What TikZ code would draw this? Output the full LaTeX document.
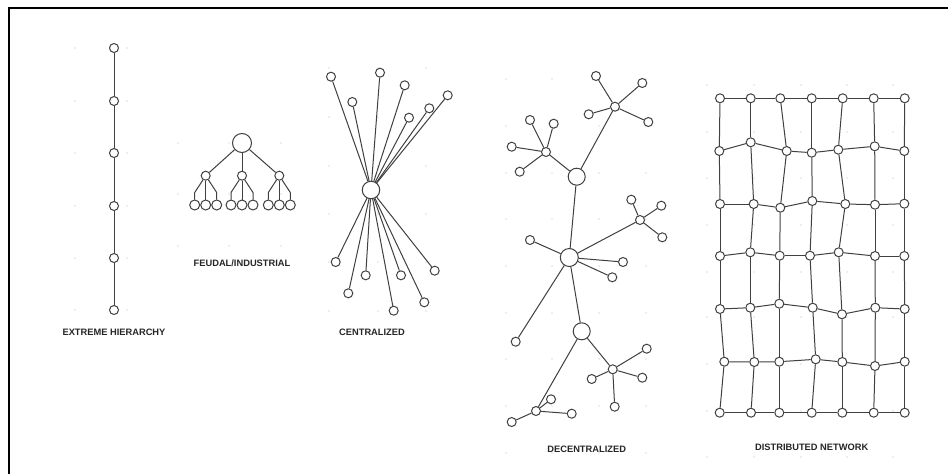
\documentclass[tikz,border=0pt]{standalone}
\usepackage{fontspec}
\setmainfont{Liberation Sans}
\definecolor{linec}{HTML}{404040}
\definecolor{dotc}{HTML}{B8B8B8}
\begin{document}
\begin{tikzpicture}[x=1pt,y=-1pt,
  edge/.style={draw=linec,line width=1pt},
  sn/.style={circle,draw=linec,fill=white,line width=1pt,inner sep=0pt,minimum size=9pt},
  ln/.style={sn,minimum size=10pt},
  lbl/.style={font=\bfseries\fontsize{9.3}{9.3}\selectfont,text=black!85,inner sep=0pt},
  gdot/.style={fill=dotc,draw=none}]
\useasboundingbox (0,0) rectangle (948,474);
\fill[white] (0,0) rectangle (948,474);
% frame
\draw[black,line width=1.4pt] (9,474) -- (9,8) -- (948,8);
% ---------- grey dots ----------
\foreach \x in {75,127} \foreach \y in {48,101,153,206,258,310} \fill[gdot] (\x,\y) circle (0.7);
\foreach \x in {178,229,281} \foreach \y in {143,194,246} \fill[gdot] (\x,\y) circle (0.7);
\foreach \x in {329,378,426} \foreach \y in {68,117,166,214,262,311} \fill[gdot] (\x,\y) circle (0.7);
\foreach \x in {506,552,599,646} \foreach \y in {79,126,173,219,266,313,359,406,453} \fill[gdot] (\x,\y) circle (0.7);
\foreach \x in {707,754,801,847,893} \foreach \y in {85,132,178,225,272,317,364,411,457} \fill[gdot] (\x,\y) circle (0.7);
% ---------- extreme hierarchy ----------
\foreach \y [count=\i] in {48,101,153,206,258,310} \node[sn] (h\i) at (114,\y) {};
\foreach \i/\j in {1/2,2/3,3/4,4/5,5/6} \draw[edge] (h\i) -- (h\j);
\node[lbl] (lh) at (114,332) {EXTREME HIERARCHY};
% ---------- feudal / industrial ----------
\node[sn,minimum size=19pt] (f0) at (242,143) {};
\foreach \x [count=\i] in {205.7,242,279.3} {
  \node[sn] (f\i) at (\x,175.7) {};
  \node[ln] (f\i a) at (\x-11,205) {};
  \node[ln] (f\i b) at (\x,205) {};
  \node[ln] (f\i c) at (\x+11,205) {};
  \draw[edge] (f0) -- (f\i);
  \draw[edge] (f\i) -- ([yshift=7pt]f\i a.north) -- (f\i a);
  \draw[edge] (f\i) -- (f\i b);
  \draw[edge] (f\i) -- ([yshift=7pt]f\i c.north) -- (f\i c);
}
\node[lbl] (lf) at (242,263) {FEUDAL/INDUSTRIAL};
% ---------- centralized ----------
\node[sn,minimum size=17.5pt] (c0) at (371,190) {};
\foreach \x/\y [count=\i] in {331/76.7, 380/72.7, 404.7/85.3, 352.3/102, 447.7/95.3, 429.3/108.3, 409/117.7,
  335.7/262, 365.7/275.3, 401/275.3, 434.7/270.7, 348.3/293.3, 424.3/302.3, 393.7/310.7} {
  \node[sn] (c\i) at (\x,\y) {};
  \draw[edge] (c0) -- (c\i);
}
\node[lbl] (lc) at (372,332) {CENTRALIZED};
% ---------- decentralized ----------
\node[sn,minimum size=17pt] (A) at (576.7,176.7) {};
\node[sn,minimum size=18pt] (D) at (569.3,257.5) {};
\node[sn,minimum size=17pt] (F) at (581.7,331.3) {};
\node[sn] (B) at (615,106.7) {};
\node[sn] (C) at (546,152) {};
\node[sn] (E) at (640,220) {};
\node[sn] (G) at (612.7,369.3) {};
\node[sn] (H) at (536,411) {};
\draw[edge] (A) -- (B);
\draw[edge] (A) -- (C);
\draw[edge] (A) -- (D);
\draw[edge] (D) -- (E);
\draw[edge] (D) -- (F);
\draw[edge] (F) -- (G);
\draw[edge] (F) -- (H);
\foreach \x/\y [count=\i] in {596/76, 642.3/83, 588.7/114.3, 648.3/122} {\node[sn] (b\i) at (\x,\y) {}; \draw[edge] (B) -- (b\i);}
\foreach \x/\y [count=\i] in {530/120, 553.7/123.7, 511.7/146.7, 519.7/171.7} {\node[sn] (cc\i) at (\x,\y) {}; \draw[edge] (C) -- (cc\i);}
\foreach \x/\y [count=\i] in {530/240, 623/262, 612.3/277.3, 515.7/341.7} {\node[sn] (dd\i) at (\x,\y) {}; \draw[edge] (D) -- (dd\i);}
\foreach \x/\y [count=\i] in {631.3/199.7, 661.3/205.7, 662.3/237.3} {\node[sn] (e\i) at (\x,\y) {}; \draw[edge] (E) -- (e\i);}
\foreach \x/\y [count=\i] in {646.7/348.7, 591.7/379, 642.3/377.7, 614.7/406.7} {\node[sn] (g\i) at (\x,\y) {}; \draw[edge] (G) -- (g\i);}
\foreach \x/\y [count=\i] in {551/399.3, 571.7/413.7, 511.7/422} {\node[sn] (hh\i) at (\x,\y) {}; \draw[edge] (H) -- (hh\i);}
\node[lbl] (ld) at (586.7,449) {DECENTRALIZED};
% ---------- distributed network ----------
\foreach \x/\y [count=\c] in {720/98.3, 750.7/98.3, 780.3/98.3, 811.7/98.3, 842.7/98.3, 873.7/98.3, 904.7/98.3} \node[sn] (d1-\c) at (\x,\y) {};
\foreach \x/\y [count=\c] in {719.3/151, 750.7/142.3, 786.7/151, 811.7/152.7, 838.3/149.7, 874.7/146.3, 904.3/151} \node[sn] (d2-\c) at (\x,\y) {};
\foreach \x/\y [count=\c] in {720/204, 753.7/204, 780.3/207.7, 812.3/201, 845.3/204, 875/204.7, 904.3/203.7} \node[sn] (d3-\c) at (\x,\y) {};
\foreach \x/\y [count=\c] in {720/256, 750.3/252.3, 779.7/255.7, 810/255.7, 838.7/252.3, 875/256, 904.3/256} \node[sn] (d4-\c) at (\x,\y) {};
\foreach \x/\y [count=\c] in {720/309, 750.3/307.7, 779.3/303.7, 812.7/307.7, 842/314.3, 875.3/307.7, 904.7/309} \node[sn] (d5-\c) at (\x,\y) {};
\foreach \x/\y [count=\c] in {724.3/361.7, 754.3/362, 779.3/361.7, 815.7/359.3, 842.3/362, 875/366, 904.7/361.7} \node[sn] (d6-\c) at (\x,\y) {};
\foreach \x/\y [count=\c] in {719.7/412.7, 751/412.7, 779.3/412.7, 811.7/412.7, 842.3/412.7, 873.7/412.7, 904.7/412.7} \node[sn] (d7-\c) at (\x,\y) {};
\foreach \r in {1,2,3,4,5,6,7} {
  \foreach \ca/\cb in {1/2,2/3,3/4,4/5,5/6,6/7} {\draw[edge] (d\r-\ca) -- (d\r-\cb);}
}
\foreach \ra/\rb in {1/2,2/3,3/4,4/5,5/6,6/7} {
  \foreach \c in {1,2,3,4,5,6,7} {\draw[edge] (d\ra-\c) -- (d\rb-\c);}
}
\node[lbl] (ln) at (811.7,447.7) {DISTRIBUTED NETWORK};
\end{tikzpicture}
\end{document}
